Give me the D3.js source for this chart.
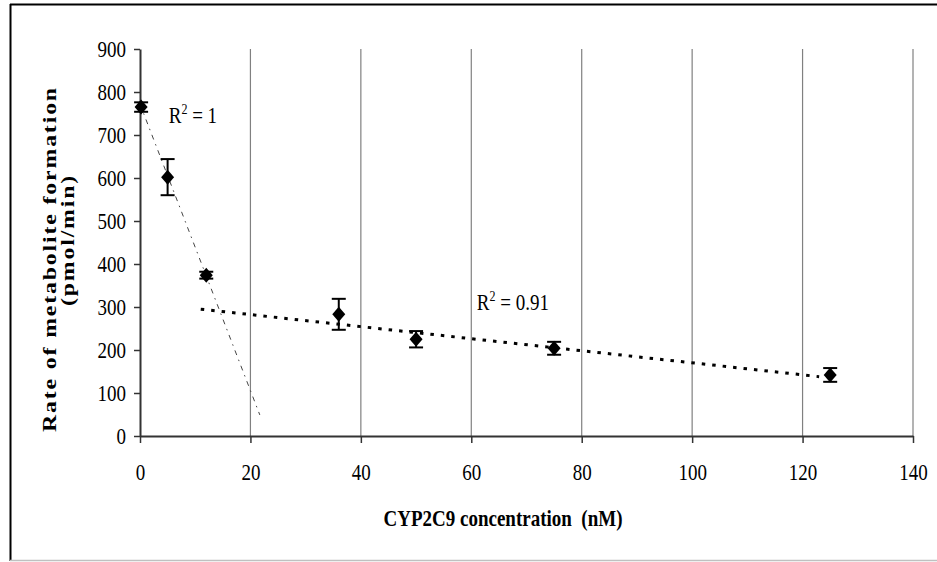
<!DOCTYPE html>
<html>
<head>
<meta charset="utf-8">
<script src="https://cdn.jsdelivr.net/npm/d3@7"></script>
<style>
  html, body { margin: 0; padding: 0; background: #fff; }
  svg { display: block; }
</style>
</head>
<body>
<svg width="937" height="562"></svg>
<script>
(function () {
    'use strict'

    // measured points: CYP2C9 concentration (nM), rate (pmol/min), error
    const conc = [0.2, 5, 12, 36, 50, 75, 125];
    const rate = [765, 602, 374, 283, 225, 204, 142];
    const err = [11, 42, 8, 36, 19, 15, 16];

    // trend lines
    const trend1 = [[0, 772], [21.7, 49]];
    const trend2 = [[11, 295], [123, 138]];

    const labels = [
        { x: 5.2, y: 728, rest: ' = 1' },
        { x: 61, y: 293, rest: ' = 0.91' }
    ];

    const xTicks = [0, 20, 40, 60, 80, 100, 120, 140];
    const yTicks = [0, 100, 200, 300, 400, 500, 600, 700, 800, 900];

    const FONT = '"Liberation Serif", "Times New Roman", serif';
    const STRETCH = 1.25; // text in the picture is taller than wide

    let svg = d3.select('svg'),
        margin = { top: 49, right: 24, bottom: 126, left: 140 },
        width = +svg.attr('width') - margin.left - margin.right,
        height = +svg.attr('height') - margin.top - margin.bottom;

    // outer frame
    svg.append('line').attr('x1', 10).attr('x2', 937).attr('y1', 4.5).attr('y2', 4.5)
        .attr('stroke', '#000').attr('stroke-width', 2);
    svg.append('line').attr('x1', 10.5).attr('x2', 10.5).attr('y1', 4).attr('y2', 561)
        .attr('stroke', '#000').attr('stroke-width', 2);
    svg.append('line').attr('x1', 10).attr('x2', 937).attr('y1', 560.5).attr('y2', 560.5)
        .attr('stroke', '#c0c0c0').attr('stroke-width', 1.5);

    let g = svg.append('g').attr('transform', 'translate(' + margin.left + ',' + margin.top + ')');

    let x = d3.scaleLinear().domain([0, 140]).range([0, width]);
    let y = d3.scaleLinear().domain([0, 900]).range([height, 0]);

    // vertical gridlines
    g.selectAll('line.grid')
        .data(xTicks.slice(1))
        .enter()
        .append('line')
        .attr('class', 'grid')
        .attr('x1', d => x(d)).attr('x2', d => x(d))
        .attr('y1', 0).attr('y2', height)
        .attr('stroke', '#808080').attr('stroke-width', 1.2);

    let xAxis = g.append('g')
        .attr('transform', 'translate(0,' + height + ')')
        .call(d3.axisBottom(x).tickValues(xTicks).tickSize(7).tickSizeOuter(0));
    xAxis.select('.domain').attr('stroke', '#333').attr('stroke-width', 2);
    xAxis.selectAll('.tick line').attr('stroke', '#333').attr('stroke-width', 1.5);
    xAxis.selectAll('.tick text').remove();
    xAxis.selectAll('.tick').append('text')
        .attr('transform', 'translate(0,44) scale(1,' + STRETCH + ')')
        .attr('text-anchor', 'middle')
        .attr('font-family', FONT).attr('font-size', 19).attr('fill', '#000')
        .text(d => d);

    let yAxis = g.append('g')
        .call(d3.axisLeft(y).tickValues(yTicks).tickSize(6).tickSizeOuter(0));
    yAxis.select('.domain').attr('stroke', '#333').attr('stroke-width', 2);
    yAxis.selectAll('.tick line').attr('stroke', '#333').attr('stroke-width', 1.5);
    yAxis.selectAll('.tick text').remove();
    yAxis.selectAll('.tick').append('text')
        .attr('transform', 'translate(-14,7.5) scale(1,' + STRETCH + ')')
        .attr('text-anchor', 'end')
        .attr('font-family', FONT).attr('font-size', 19).attr('fill', '#000')
        .text(d => d);

    let line = d3.line().x(d => x(d[0])).y(d => y(d[1]));

    g.append('path')
        .attr('d', line(trend1))
        .attr('fill', 'none')
        .attr('stroke', '#444')
        .attr('stroke-width', 1)
        .attr('stroke-dasharray', '5 5 1.5 5');

    g.append('path')
        .attr('d', line(trend2))
        .attr('fill', 'none')
        .attr('stroke', '#000')
        .attr('stroke-width', 3)
        .attr('stroke-dasharray', '3.5 7');

    // error bars
    let eb = g.selectAll('g.err')
        .data(conc.map((c, i) => ({ c: c, r: rate[i], e: err[i] })))
        .enter()
        .append('g')
        .attr('class', 'err')
        .attr('stroke', '#000')
        .attr('stroke-width', 2);
    eb.append('line')
        .attr('x1', d => x(d.c)).attr('x2', d => x(d.c))
        .attr('y1', d => y(d.r + d.e)).attr('y2', d => y(d.r - d.e));
    eb.append('line')
        .attr('x1', d => x(d.c) - 7).attr('x2', d => x(d.c) + 7)
        .attr('y1', d => y(d.r + d.e)).attr('y2', d => y(d.r + d.e));
    eb.append('line')
        .attr('x1', d => x(d.c) - 7).attr('x2', d => x(d.c) + 7)
        .attr('y1', d => y(d.r - d.e)).attr('y2', d => y(d.r - d.e));

    // diamond markers
    g.selectAll('path.pt')
        .data(conc.map((c, i) => [c, rate[i]]))
        .enter()
        .append('path')
        .attr('class', 'pt')
        .attr('d', 'M0,-7.5L6.5,0L0,7.5L-6.5,0Z')
        .attr('transform', d => 'translate(' + x(d[0]) + ',' + y(d[1]) + ')')
        .attr('fill', '#000');

    // R squared labels
    labels.forEach(function (l) {
        let t = g.append('text')
            .attr('transform', 'translate(' + x(l.x) + ',' + y(l.y) + ') scale(1,' + STRETCH + ')')
            .attr('font-family', FONT)
            .attr('font-size', 19)
            .attr('fill', '#000');
        t.append('tspan').text('R');
        t.append('tspan').attr('font-size', 12).attr('dy', -7).text('2');
        t.append('tspan').attr('dy', 7).text(l.rest);
    });

    // axis titles
    svg.append('text')
        .attr('transform', 'translate(503,526) scale(1,' + STRETCH + ')')
        .attr('text-anchor', 'middle')
        .attr('font-family', FONT)
        .attr('font-weight', 'bold')
        .attr('font-size', 19)
        .attr('xml:space', 'preserve')
        .style('white-space', 'pre')
        .text('CYP2C9 concentration  (nM)');

    function yTitle(txt, cy, base) {
        svg.append('g')
            .attr('transform', 'translate(0,' + cy + ') scale(1,' + STRETCH + ')')
            .append('text')
            .attr('transform', 'rotate(-90)')
            .attr('x', 0).attr('y', base)
            .attr('text-anchor', 'middle')
            .attr('font-family', FONT)
            .attr('font-weight', 'bold')
            .attr('font-size', 19)
            .attr('letter-spacing', 1.5)
            .text(txt);
    }
    yTitle('Rate of metabolite formation', 259, 56);
    yTitle('(pmol/min)', 240, 74);
})();
</script>
</body>
</html>
